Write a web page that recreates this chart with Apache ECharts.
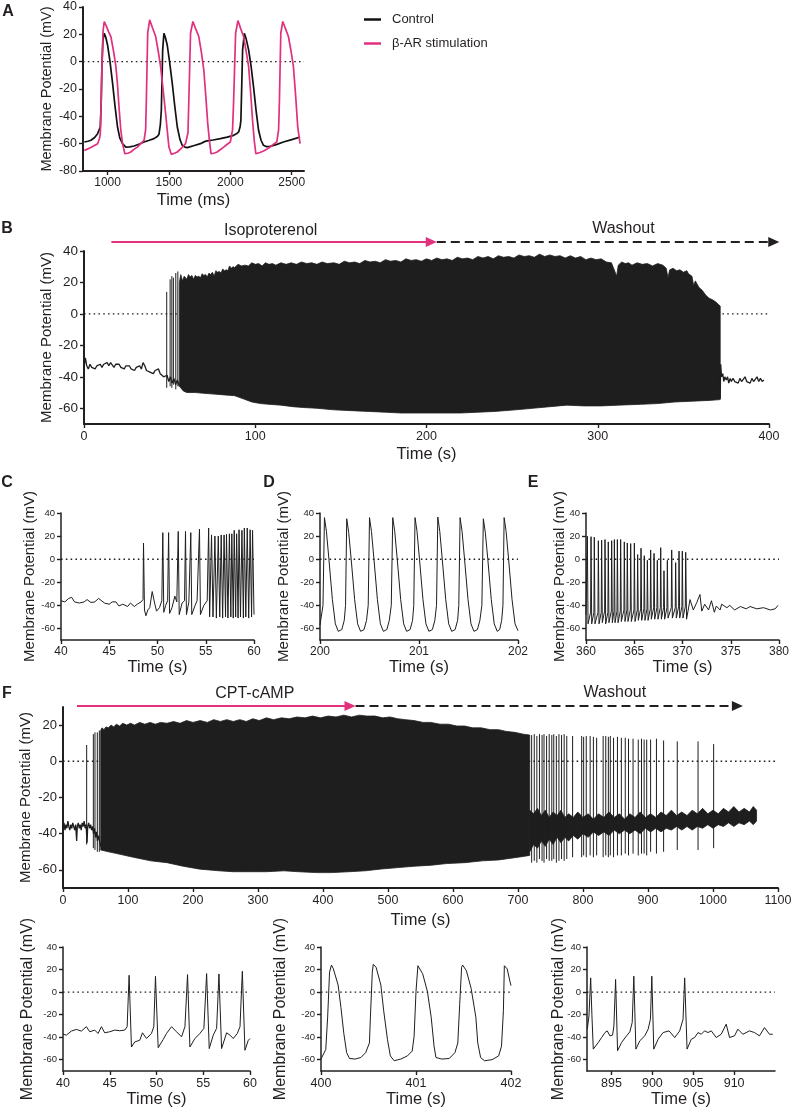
<!DOCTYPE html>
<html><head><meta charset="utf-8">
<script src="https://cdn.jsdelivr.net/npm/echarts@6/dist/echarts.min.js"></script>
<style>html,body{margin:0;padding:0;background:#fff}#c{width:793px;height:1114px}</style>
</head><body><div id="c"></div>
<script>
const FONT = '"Liberation Sans", Arial, Helvetica, sans-serif';
const INK = '#231f20';
const PINK = '#e0307e';

// ---------- Panel A (ms, mV) ----------
const aTicksX = [1000, 1500, 2000, 2500];
const aControl = [[811,-58.8],[840,-58.2],[865,-57.5],[895,-55.5],[919,-52.7],[941,-47.8],[948,-30],[954,-3.7],[962,15],[973,20.8],[985,18],[1000,12.2],[1020,0],[1041,-15.9],[1060,-32],[1081,-47.8],[1100,-56],[1122,-60],[1149,-62.5],[1180,-62.3],[1216,-61.7],[1260,-60.2],[1297,-58.8],[1340,-57.5],[1378,-56.3],[1405,-54.8],[1419,-53.1],[1430,-46],[1438,-35.5],[1449,8.6],[1459,20.8],[1470,18],[1486,12.2],[1505,0],[1527,-15.9],[1548,-33],[1568,-47.8],[1590,-57],[1608,-61.2],[1630,-62.5],[1649,-62.9],[1700,-61.5],[1757,-60],[1790,-58.5],[1811,-58],[1860,-57.3],[1919,-56.3],[1975,-55.2],[2027,-53.9],[2050,-52.8],[2068,-51.4],[2080,-47.5],[2086,-42.9],[2100,8.6],[2114,20.8],[2128,17],[2149,8.6],[2170,-4],[2189,-18.4],[2210,-36],[2230,-50.2],[2250,-57.5],[2270,-61.2],[2295,-62.2],[2324,-62],[2380,-60.5],[2432,-58.8],[2500,-57],[2568,-55.1]];
const aBeta = [[811,-64.9],[860,-63],[919,-60],[935,-56],[941,-52.7],[948,-30],[954,-3.7],[963,22],[973,29.4],[990,26],[1008,22],[1027,18.4],[1048,8],[1068,-3.7],[1082,-18],[1095,-35.5],[1108,-50],[1122,-60],[1141,-67.4],[1165,-67],[1189,-66.1],[1215,-64.2],[1243,-62.5],[1270,-60],[1297,-57.6],[1310,-50],[1316,-28.2],[1327,20.8],[1343,30.6],[1365,25],[1392,18.4],[1412,8],[1432,-3.7],[1452,-20],[1473,-38],[1488,-52],[1500,-62.5],[1519,-67.8],[1545,-67],[1568,-66.1],[1600,-63.5],[1635,-60],[1655,-52],[1662,-28.2],[1676,20.8],[1695,29.4],[1718,24],[1743,18.4],[1764,7],[1784,-6.1],[1800,-25],[1816,-45.3],[1830,-58],[1843,-67.4],[1865,-67],[1892,-66.1],[1920,-64.3],[1946,-62.5],[1972,-60.6],[2000,-58.8],[2018,-50],[2027,-28.2],[2043,20.8],[2062,30.1],[2085,24],[2108,18.4],[2128,8],[2149,-3.7],[2165,-22],[2181,-42.9],[2195,-58],[2208,-67.4],[2240,-66.5],[2270,-65.4],[2298,-64],[2324,-62.5],[2350,-60.5],[2378,-58.8],[2393,-50],[2400,-28.2],[2411,20.8],[2427,29.4],[2450,24],[2473,18.4],[2494,8],[2514,-3.7],[2532,-25],[2549,-47.8],[2568,-60]];

// ---------- Panel B (s, mV) ----------
const yTicks = [-60,-40,-20,0,20,40];
const bPre = [[0,-34],[0.8,-28],[1.6,-33],[2.5,-35],[3.5,-32],[4.5,-34],[5.5,-33],[6.5,-35],[7.5,-33],[8.5,-34],[9.5,-32],[10.5,-34],[11.5,-32],[12.5,-33],[13.5,-31],[14.5,-33],[15.5,-31],[16.5,-32],[17.5,-34],[18.5,-32],[19.5,-33],[20.5,-32],[21.5,-34],[22.5,-33],[23.5,-35],[24.5,-33],[25.5,-34],[26.5,-33],[27.5,-35],[28.5,-34],[29.5,-36],[30.5,-34],[31.5,-35],[32.5,-33],[33.5,-35],[34.5,-31],[35.5,-33],[36.5,-36],[37.5,-35],[38.5,-37],[39.5,-36],[40.5,-38],[41.5,-36],[42.5,-37],[43.5,-35],[44.5,-38],[45.5,-37],[46.5,-40],[47.5,-41],[48.5,-39],[49.5,-43],[50.5,-40],[51.5,-44],[52.5,-41],[53.5,-45],[54.5,-42],[55.7,-46]];
const bEarlySpikes = [[48.3,-47,14],[50.3,-46,22],[51.3,-47,24],[52.2,-45,23],[53.6,-48,26],[54.8,-46,27]];
const bTop = [[55.7,20],[56.5,25],[57.5,21],[58.5,24],[60,22],[61,25],[62,23.5],[63,24.5],[64,22],[65,24.5],[66,23.5],[67,24],[68,23],[69,25.5],[70,24.5],[71,25],[72,23.5],[73,26],[74,25],[75,26.5],[76,24],[77,27.5],[78,26.5],[79,27],[80,26],[81,28.5],[82,27.5],[83,28],[84,27.5],[85,30.5],[86,29],[87,30],[88,29.5],[90,31.5],[92,30.5],[94,31],[96,30.5],[98,32.5],[100,31.5],[102,32],[104,30.5],[106,32.5],[108,31.5],[110,32],[112,31],[115,32.5],[118,31.5],[121,32.5],[124,31.5],[127,33],[130,32],[133,32.5],[136,31.5],[139,33],[142,32],[146,32.5],[149,31.5],[152,33.5],[155,32.5],[158,33],[161,32],[164,34],[167,33],[170,33.5],[173,32.5],[176,34.5],[179,33.5],[182,34],[185,33],[188,35],[191,34],[194,34.5],[197,33.5],[200,35],[203,34],[206,35.5],[209,34.5],[212,35],[215,34],[218,36],[221,35],[224,35.5],[227,34.5],[230,36.5],[233,35.5],[236,36.5],[239,35],[242,37],[245,36],[248,36.5],[251,35.5],[254,37.5],[257,36.5],[260,37],[263,36],[266,38],[269,36.5],[272,37.5],[275,36.5],[278,37],[281,35.5],[284,37],[287,35.5],[290,36.5],[293,34.5],[296,35.5],[299,34.5],[302,35],[305,33],[308,32.5],[310,27],[311,24],[312,31],[314,33],[316,32],[318,32.5],[320,31],[323,32.5],[326,31.5],[329,32],[332,30.5],[335,32],[338,31],[340,29],[341,23],[342,28],[344,29],[346,27.5],[348,28],[350,26.5],[352,27.5],[353,25.5],[355,24],[356,18],[357,21],[359,17],[361,15],[363,12],[365,10],[367,9],[369,7.5],[370.5,6],[371.5,5]];
const bBottom = [[55.7,-46],[58,-49],[60,-50],[65,-50],[70,-50.5],[76,-51],[82,-51.5],[88,-52],[93,-54],[98,-56],[103,-57],[108,-57.5],[115,-58],[122,-59],[128,-59.5],[136,-60],[146,-61],[156,-61.5],[166,-62],[176,-62.5],[185,-63],[195,-63],[208,-63],[220,-63],[230,-62.5],[240,-62],[252,-61],[262,-60],[272,-59],[282,-58],[292,-58.5],[302,-58.5],[312,-58],[325,-57.5],[335,-57],[345,-56],[355,-55.5],[365,-55],[371.5,-54.5]];
const bPost = [[371.5,-54],[371.8,-32],[372.3,-40],[373,-38],[373.6,-43],[374.2,-40],[375,-42],[375.8,-40],[376.5,-44],[377.3,-41],[378,-43],[379,-41],[380,-43],[381,-42],[382,-44],[383,-41],[384,-43],[385,-42],[386,-40],[387,-43],[388,-42],[389,-44],[390,-41],[391,-43],[392,-42],[393,-40],[394,-43],[395,-41],[396,-43],[397,-42]];
const bIso = [16, 206];      // arrow start/end (s)
const bWash = [206, 406];
const bLabels = [['Isoproterenol', 109], ['Washout', 315]];

// ---------- Panel C ----------
const cTrace = [[40.0,-36],[40.4,-37],[40.8,-34],[41.1,-33],[41.4,-37],[41.9,-38],[42.4,-37],[42.7,-35],[43.1,-37.5],[43.5,-37],[43.9,-34],[44.1,-32.5],[44.5,-38],[45.0,-39],[45.3,-37],[45.7,-37],[46.0,-40.5],[46.4,-39],[46.9,-41],[47.2,-38],[47.6,-41],[47.9,-39],[48.3,-37],[48.5,-35],[48.55,14],[48.65,-44],[48.8,-49],[49.0,-44],[49.2,-42],[49.45,-28],[49.7,-38],[49.9,-45],[50.2,-42],[50.45,-36],[50.55,23],[50.65,-46],[50.85,-40],[51.05,-36],[51.15,23],[51.25,-47],[51.5,-42],[51.8,-32],[52.0,-37],[52.15,24],[52.25,-48],[52.55,-38],[52.8,-36],[52.9,24],[53.0,-48],[53.25,-37],[53.45,23],[53.55,-48],[53.9,-40],[54.1,-36],[54.35,26],[54.45,-48],[54.8,-40],[55.15,-36],[55.3,27],[55.4,-50],[55.6,21],[55.75,-50],[55.95,20],[56.1,-51],[56.3,20],[56.45,-50],[56.6,21],[56.75,-51],[56.9,21],[57.05,-50],[57.15,21.5],[57.3,-51],[57.45,22],[57.6,-50],[57.7,22],[57.85,-51],[57.95,25],[58.1,-50],[58.2,22],[58.35,-51],[58.45,25.5],[58.6,-50],[58.75,25],[58.9,-51],[59.0,27],[59.15,-50],[59.3,27],[59.45,-51],[59.6,25.5],[59.75,-50],[59.85,25],[60.0,-48]];

// ---------- Panel D ----------
const dTrace = [[200.0,-57],[200.03,-40],[200.045,36],[200.065,24],[200.09,0],[200.125,-35],[200.155,-56],[200.185,-62.5],[200.22,-61],[200.245,-53],[200.258,-40],
[200.27,35],[200.29,23],[200.315,0],[200.35,-35],[200.38,-56],[200.41,-62.5],[200.445,-61],[200.47,-53],[200.487,-40],
[200.50,36],[200.52,24],[200.545,0],[200.58,-35],[200.61,-56],[200.64,-62.5],[200.675,-61],[200.70,-53],[200.72,-40],
[200.735,36],[200.755,24],[200.78,0],[200.815,-35],[200.845,-56],[200.875,-62.5],[200.91,-61],[200.935,-53],[200.947,-40],
[200.96,36],[200.98,24],[201.005,0],[201.04,-35],[201.07,-56],[201.1,-62.5],[201.135,-61],[201.16,-53],[201.177,-40],
[201.19,36.5],[201.21,24],[201.235,0],[201.27,-35],[201.30,-56],[201.33,-62.5],[201.365,-61],[201.39,-53],[201.402,-40],
[201.415,36],[201.435,24],[201.46,0],[201.495,-35],[201.525,-56],[201.555,-62.5],[201.59,-61],[201.615,-53],[201.635,-40],
[201.65,35],[201.67,23],[201.695,0],[201.73,-35],[201.76,-56],[201.79,-62.5],[201.815,-61],[201.835,-53],[201.848,-40],
[201.86,36],[201.88,24],[201.905,0],[201.94,-35],[201.97,-56],[202.0,-62]];

// ---------- Panel E ----------
const eTrace = [[360.0,-48],[360.14,20],[360.21,-56],[360.48,-46],[360.52,19.5],[360.59,-56],[360.82,-46],[360.86,19],[360.93,-56],[361.24,-46],[361.28,16],[361.35,-56],[361.58,-46],[361.62,16.5],[361.69,-55],[361.93,-45],[361.97,17],[362.04,-56],[362.27,-46],[362.31,15],[362.38,-55],[362.62,-45],[362.66,16],[362.73,-55],[362.9,-45],[362.94,17],[363.01,-55],[363.21,-45],[363.25,17],[363.32,-55],[363.55,-45],[363.59,17],[363.66,-54],[363.93,-44],[363.97,15],[364.04,-54],[364.24,-44],[364.28,14],[364.35,-54],[364.59,-44],[364.63,13.5],[364.7,-54],[364.97,-44],[365.01,14],[365.08,-54],[365.31,-44],[365.35,4],[365.42,-53],[365.66,-43],[365.7,9.5],[365.77,-53],[366.0,-43],[366.04,3],[366.11,-53],[366.32,-43],[366.36,-1],[366.43,-53],[366.66,-43],[366.7,8],[366.77,-52],[367.01,-42],[367.05,5],[367.12,-52],[367.35,-42],[367.39,-1],[367.46,-52],[367.7,-42],[367.74,10],[367.81,-52],[368.04,-42],[368.08,-10],[368.15,-52],[368.39,-42],[368.43,-1],[368.5,-51],[368.84,-42],[368.88,8],[368.95,-51],[369.25,-42],[369.29,-3],[369.36,-51],[369.6,-41],[369.64,7],[369.71,-51],[369.94,-41],[369.98,7],[370.05,-51],[370.29,-41],[370.33,6],[370.42,-52],[370.78,-35],[371.12,-44],[371.47,-37.7],[371.81,-30.6],[372.0,-45],[372.3,-39],[372.7,-44],[373.0,-36],[373.3,-46],[373.5,-40.6],[373.9,-44],[374.06,-39],[374.6,-42],[374.9,-40],[375.4,-44],[376.0,-41],[376.6,-43],[377.0,-41],[377.7,-43],[378.4,-42],[379.1,-44],[379.6,-43],[379.9,-40]];

// ---------- Panel F ----------
const fTicksY = [-60,-40,-20,0,20];
const fPre = [[0,-36],[1.5,-34],[3,-38],[4.5,-35],[6,-37],[7.5,-33],[9,-36],[10.5,-38],[12,-35],[13.5,-37],[15,-34],[16.5,-36],[18,-38],[19.5,-35],[21,-44],[22,-36],[23.5,-34],[25,-37],[26.5,-35],[28,-38],[29.5,-34],[31,-36],[32.5,-33],[34,-37],[35.5,-35],[37,-45],[38,-36],[39.5,-34],[41,-37],[42.5,-35],[44,-38],[45.5,-36],[47,-40],[48.5,-37],[50,-42],[51.5,-39],[53,-44],[54.5,-41],[58,-47]];
const fEarlySpikes = [[36.4,-46,9],[46.7,-48,15],[49.2,-49,16],[52.8,-50,16],[55.9,-50,17]];
const fTop = [[58,17],[60,18.5],[63,17.5],[66,19],[70,18.5],[74,20],[78,19],[82,20.5],[87,19.5],[92,21],[98,20],[104,21],[110,20],[118,21.5],[126,20.5],[134,21.5],[142,20.5],[150,21.5],[160,21],[170,22],[180,21],[190,22.5],[200,21.5],[211,22.5],[222,21.5],[232,23],[242,22],[252,23],[262,22],[272,23],[282,22],[292,23.5],[302,22.5],[313,24],[324,23],[336,24],[348,23.5],[360,24.5],[372,24],[384,25],[396,24],[408,25],[420,24.5],[432,25.5],[444,24.5],[456,25.5],[467,25],[480,25],[492,24],[503,24.5],[515,23.5],[527,23],[540,22.5],[554,21.5],[566,21.5],[580,20.5],[593,20.5],[606,19.5],[618,19.5],[630,18.5],[643,18.5],[657,17.5],[670,17.5],[682,16.5],[695,16],[708,15],[718,14.5]];
const fBottom = [[58,-49],[70,-50],[83,-51],[108,-53],[135,-55],[160,-56],[185,-58],[211,-59.6],[240,-60.5],[262,-61],[290,-61],[313,-61],[340,-60.5],[362,-61],[390,-61.5],[413,-61.5],[440,-61],[465,-60.5],[490,-59.5],[516,-58.7],[540,-58],[567,-57.4],[590,-56.5],[618,-56],[645,-55],[670,-54.5],[700,-53],[718,-52]];
const fPostTop = [[718,-27],[724,-29],[730,-26],[736,-30],[742,-27],[748,-31],[754,-28],[760,-30],[766,-27],[772,-31],[778,-29],[785,-31],[792,-28],[800,-31],[808,-29],[816,-32],[824,-29],[832,-31],[840,-28],[848,-31],[856,-29],[864,-32],[872,-29],[880,-31],[888,-28],[896,-31],[904,-29],[912,-31],[920,-28],[928,-30],[936,-27],[944,-30],[952,-28],[960,-30],[968,-27],[976,-29],[984,-26],[992,-29],[1000,-27],[1008,-29],[1016,-26],[1024,-28],[1032,-25],[1040,-28],[1048,-26],[1056,-28],[1062,-25],[1067,-27]];
const fPostBottom = [[718,-50],[724,-46],[730,-48],[736,-44],[742,-47],[748,-43],[754,-46],[760,-42],[766,-45],[772,-42],[778,-44],[785,-41],[792,-43],[800,-40],[808,-42],[816,-39],[824,-41],[832,-39],[840,-41],[848,-38],[856,-40],[864,-38],[872,-40],[880,-38],[888,-40],[896,-37],[904,-39],[912,-37],[920,-39],[928,-37],[936,-38],[944,-36],[952,-38],[960,-36],[968,-38],[976,-36],[984,-37],[992,-35],[1000,-37],[1008,-35],[1016,-36],[1024,-34],[1032,-36],[1040,-34],[1048,-35],[1056,-33],[1062,-35],[1067,-33]];
const fLateSpikes = [[721,-56,14.5],[725,-55,15],[729,-56,14],[733,-54,15],[737,-55,14.5],[740,-56,15],[744,-54,14],[748,-55,15],[752,-55,14.5],[755,-54,15],[759,-56,14],[763,-55,15],[767,-54,14.5],[771,-55,15],[775,-54,14],[784,-53,14],[798,-53,14],[801,-52,13.5],[805,-53,14],[811,-52,14],[816,-53,13.5],[821,-52,13],[831,-53,14],[835,-52,14],[839,-53,13.5],[842,-52,14],[847,-53,13],[853,-52,13.5],[859,-52,13],[865,-51,13],[870,-52,12.5],[877,-51,12.5],[885,-52,12],[890,-51,12.5],[894,-51,12],[898,-52,12],[904,-50,12],[913,-51,12.5],[924,-50,11.5],[945,-49,11],[977,-49,11],[1001,-48,9.5]];
const fCpt = [21.5, 450];
const fWash = [450, 1046];
const fLabels = [['CPT-cAMP', 295], ['Washout', 849]];

// ---------- Panels G1-G3 (insets of F) ----------
const g1Trace = [[40.0,-37.3],[40.36,-38.2],[40.89,-34.6],[41.43,-33.1],[41.96,-34.6],[42.5,-30.7],[42.86,-35.2],[43.39,-33.7],[43.75,-36.7],[44.11,-30.7],[44.46,-36.1],[45.0,-35.2],[45.54,-33.7],[46.07,-34.3],[46.61,-33.7],[46.86,-30.7],[47.07,14.9],[47.32,-48.7],[47.68,-44.2],[48.21,-42.7],[48.5,-36.1],[48.93,-41.2],[49.46,-36.7],[49.71,-30.7],[49.89,14],[50.18,-49.3],[50.71,-42.1],[51.07,-36.7],[51.61,-30.7],[52.14,-35.2],[52.68,-39.7],[53.04,-30.7],[53.32,15.5],[53.57,-48.7],[54.11,-41.2],[54.64,-36.7],[55.07,-32.2],[55.36,16.4],[55.64,-50.1],[56.07,-38.2],[56.43,-32.2],[56.68,16.1],[56.96,-50.1],[57.5,-36.1],[57.86,-38.2],[58.21,-41.2],[58.64,-36.7],[58.93,-30.7],[59.18,18.5],[59.46,-51.6],[59.82,-42.7],[60.0,-41.2]];
const g2Trace = [[400.0,-59.4],[400.01,-58],[400.05,-50.9],[400.07,-22.3],[400.09,17.7],[400.11,24],[400.13,20.6],[400.18,6.3],[400.21,-13.7],[400.24,-36.6],[400.27,-53.7],[400.3,-58.9],[400.36,-59.4],[400.42,-58],[400.47,-53.7],[400.51,-45.1],[400.52,-22.3],[400.54,17.7],[400.55,24.6],[400.58,22],[400.63,6.3],[400.66,-16.6],[400.7,-42.3],[400.73,-56.6],[400.77,-60.9],[400.84,-59.4],[400.91,-56.6],[400.96,-52.3],[400.98,-39.4],[401.0,0.6],[401.02,23.4],[401.04,24],[401.07,16.3],[401.12,0.6],[401.16,-22.3],[401.19,-48],[401.21,-58],[401.27,-59.4],[401.35,-58.9],[401.41,-53.7],[401.44,-45.1],[401.46,-10.9],[401.48,22],[401.49,24],[401.53,19.1],[401.58,3.4],[401.63,-22.3],[401.65,-45.1],[401.68,-58],[401.72,-60.9],[401.8,-60],[401.87,-56.6],[401.9,-48],[401.92,-16.6],[401.93,23.4],[401.94,24.9],[401.96,20.6],[401.99,9.1],[402.0,5.7]];
const g3Ticks = [895, 900, 905, 910];
const g3Trace = [[892.04,-32.9],[892.24,-21.2],[892.45,12.6],[892.6,-20],[892.77,-50.6],[892.98,-49.1],[893.38,-44.7],[893.79,-40.3],[894.2,-35.9],[894.48,-34.4],[894.8,-38.8],[895.13,-38.2],[895.29,-30],[895.5,11.2],[895.74,-52],[896.23,-44.7],[896.84,-38.8],[897.24,-35.3],[897.53,-27],[897.73,14.1],[897.98,-50.6],[898.46,-43.2],[899.07,-38.8],[899.48,-32.9],[899.76,-24.1],[899.93,14.1],[900.17,-50.6],[900.7,-41.8],[901.31,-35.9],[902.04,-34.4],[902.73,-40.3],[903.34,-34.4],[903.75,-24.1],[903.95,12.6],[904.24,-50.6],[904.76,-41.8],[905.17,-40.3],[905.58,-35.9],[905.98,-37.4],[906.39,-34.4],[906.8,-35.9],[907.2,-34.4],[907.81,-40.3],[908.42,-37.4],[909.03,-28.5],[909.44,-40.3],[910.05,-38.8],[910.46,-32.9],[911.07,-37.4],[911.88,-34.4],[912.49,-35.9],[913.1,-38.8],[913.71,-31.5],[914.32,-37.4],[914.72,-37.4]];

// ================= layout & styling =================
const grids = [
  {left: 83, top: 7, width: 221, height: 164},   // 0 A
  {left: 84, top: 251, width: 685, height: 173}, // 1 B
  {left: 61, top: 513, width: 193, height: 127}, // 2 C
  {left: 320, top: 513, width: 198, height: 127},// 3 D
  {left: 586, top: 513, width: 193, height: 127},// 4 E
  {left: 63, top: 707, width: 715, height: 181}, // 5 F
  {left: 63, top: 947, width: 187, height: 124}, // 6 G1
  {left: 321, top: 947, width: 190, height: 124},// 7 G2
  {left: 587, top: 947, width: 188, height: 124} // 8 G3
].map(g => Object.assign({outerBoundsMode: 'none', containLabel: false}, g));

const plain = v => String(v);
function mkX(gi, min, max, cfg) {
  const ax = {
    type: 'value', gridIndex: gi, min: min, max: max, position: 'bottom',
    axisLine: {show: true, onZero: false, lineStyle: {color: INK, width: cfg.lw || 1.5}},
    axisTick: {show: true, length: 4, lineStyle: {color: INK, width: 1.4}},
    axisLabel: {show: true, color: INK, fontFamily: FONT, fontSize: cfg.fs, margin: 6, showMinLabel: true, showMaxLabel: true, formatter: plain, hideOverlap: false},
    splitLine: {show: false},
    name: cfg.name || 'Time (s)', nameLocation: 'middle', nameGap: cfg.gap, nameMoveOverlap: false,
    nameTextStyle: {color: INK, fontFamily: FONT, fontSize: cfg.nfs || 16.5}
  };
  if (cfg.ticks) { ax.axisTick.customValues = cfg.ticks; ax.axisLabel.customValues = cfg.ticks; }
  else ax.interval = cfg.interval;
  return ax;
}
function mkY(gi, min, max, cfg) {
  const ax = {
    type: 'value', gridIndex: gi, min: min, max: max, position: 'left',
    axisLine: {show: true, onZero: false, lineStyle: {color: INK, width: cfg.lw || 1.5}},
    axisTick: {show: true, length: 4, lineStyle: {color: INK, width: 1.4}},
    axisLabel: {show: true, color: INK, fontFamily: FONT, fontSize: cfg.fs, margin: 6, showMinLabel: true, showMaxLabel: true, formatter: plain, hideOverlap: false},
    splitLine: {show: false},
    name: 'Membrane Potential (mV)', nameLocation: 'middle', nameGap: cfg.gap, nameMoveOverlap: false,
    nameTextStyle: {color: INK, fontFamily: FONT, fontSize: cfg.nfs || 15}
  };
  if (cfg.ticks) { ax.axisTick.customValues = cfg.ticks; ax.axisLabel.customValues = cfg.ticks; }
  else ax.interval = cfg.interval;
  return ax;
}

const xAxes = [
  mkX(0, 800, 2600, {fs: 12, gap: 21, name: 'Time (ms)', ticks: aTicksX, lw: 2}),
  mkX(1, 0, 400, {fs: 12.5, gap: 22, interval: 100, lw: 2}),
  mkX(2, 40, 60, {fs: 12, gap: 19, interval: 5}),
  mkX(3, 200, 202, {fs: 12, gap: 19, interval: 1}),
  mkX(4, 360, 380, {fs: 12, gap: 19, interval: 5}),
  mkX(5, 0, 1100, {fs: 12.5, gap: 24, interval: 100, lw: 2}),
  mkX(6, 40, 60, {fs: 12.5, gap: 20, interval: 5}),
  mkX(7, 400, 402, {fs: 12.5, gap: 20, interval: 1}),
  mkX(8, 892, 915, {fs: 12.5, gap: 20, ticks: g3Ticks})
];
const yAxes = [
  mkY(0, -80, 40, {fs: 12.5, gap: 29, nfs: 14.5, interval: 20, lw: 2}),
  mkY(1, -70, 40, {fs: 13.5, gap: 30, ticks: yTicks, lw: 2}),
  mkY(2, -70, 40, {fs: 9.5, gap: 24, ticks: yTicks}),
  mkY(3, -70, 40, {fs: 9.5, gap: 29, ticks: yTicks}),
  mkY(4, -70, 40, {fs: 9.5, gap: 19, ticks: yTicks}),
  mkY(5, -70, 30, {fs: 13, gap: 30, ticks: fTicksY, lw: 2}),
  mkY(6, -70, 40, {fs: 9.5, gap: 27, nfs: 16, ticks: yTicks}),
  mkY(7, -70, 40, {fs: 9.5, gap: 32, nfs: 16, ticks: yTicks}),
  mkY(8, -70, 40, {fs: 9.5, gap: 20, nfs: 16, ticks: yTicks})
];

function zeroLine(gi) {
  const ax = xAxes[gi];
  return {type: 'line', xAxisIndex: gi, yAxisIndex: gi, data: [[ax.min, 0], [ax.max, 0]],
    symbol: 'none', silent: true, z: 1,
    lineStyle: {color: INK, width: 1.4, type: [1.6, 3.2]}};
}
function trace(gi, data, color, width, name) {
  const s = {type: 'line', xAxisIndex: gi, yAxisIndex: gi, data: data, symbol: 'none', showSymbol: false,
    clip: true, silent: true, z: 3, lineStyle: {color: color, width: width}, itemStyle: {color: color}};
  if (name) s.name = name;
  return s;
}
function band(gi, top, bottom, color) {
  return {type: 'custom', xAxisIndex: gi, yAxisIndex: gi, data: [top[0]], clip: true, silent: true, z: 3,
    encode: {x: 0, y: 1},
    renderItem: function (params, api) {
      const pts = top.map(p => api.coord(p)).concat(bottom.slice().reverse().map(p => api.coord(p)));
      return {type: 'polygon', shape: {points: pts}, style: {fill: color, stroke: color, lineWidth: 0.8}};
    }};
}
function spikes(gi, data, color, width) {
  return {type: 'custom', xAxisIndex: gi, yAxisIndex: gi, data: data, clip: true, silent: true, z: 4,
    encode: {x: 0, y: [1, 2]},
    renderItem: function (params, api) {
      const a = api.coord([api.value(0), api.value(1)]);
      const b = api.coord([api.value(0), api.value(2)]);
      return {type: 'line', shape: {x1: a[0], y1: a[1], x2: b[0], y2: b[1]}, style: {stroke: color, lineWidth: width}};
    }};
}

const TR = '#1e1e1e';
const series = [];
for (let i = 0; i < 9; i++) series.push(zeroLine(i));
series.push(trace(0, aControl, '#111111', 1.7, 'Control'));
series.push(trace(0, aBeta, PINK, 1.7, 'β-AR stimulation'));
series.push(trace(1, bPre, TR, 1.3));
series.push(spikes(1, bEarlySpikes, TR, 1));
series.push(band(1, bTop, bBottom, TR));
series.push(trace(1, bPost, TR, 1.3));
series.push(trace(2, cTrace, TR, 1));
series.push(trace(3, dTrace, TR, 1));
series.push(trace(4, eTrace, TR, 1));
series.push(trace(5, fPre, TR, 1.3));
series.push(spikes(5, fEarlySpikes, TR, 1));
series.push(band(5, fTop, fBottom, TR));
series.push(band(5, fPostTop, fPostBottom, TR));
series.push(spikes(5, fLateSpikes, TR, 1));
series.push(trace(6, g1Trace, TR, 1));
series.push(trace(7, g2Trace, TR, 1));
series.push(trace(8, g3Trace, TR, 1));

const chart = echarts.init(document.getElementById('c'), null, {renderer: 'canvas', width: 793, height: 1114});
chart.setOption({
  animation: false,
  backgroundColor: '#ffffff',
  textStyle: {fontFamily: FONT},
  legend: {
    data: ['Control', 'β-AR stimulation'], orient: 'vertical', left: 359, top: 8, padding: 5,
    itemWidth: 17, itemHeight: 2.5, icon: 'rect', itemGap: 11, selectedMode: false,
    textStyle: {fontFamily: FONT, fontSize: 13, color: INK, padding: [0, 0, 0, 6]}
  },
  grid: grids, xAxis: xAxes, yAxis: yAxes, series: series
});

// ---- annotations: panel letters & treatment arrows ----
function px(gi, t) { return chart.convertToPixel({xAxisIndex: gi}, t); }
function arrow(gi, range, y, color, dashed) {
  const x1 = px(gi, range[0]), x2 = px(gi, range[1]);
  return [
    {type: 'line', shape: {x1: x1, y1: y, x2: x2 - 8, y2: y}, style: {stroke: color, lineWidth: 1.8, lineDash: dashed ? [9, 5] : null}},
    {type: 'polygon', shape: {points: [[x2 - 11, y - 5], [x2, y], [x2 - 11, y + 5]]}, style: {fill: color}}
  ];
}
function label(gi, item, y) {
  return {type: 'text', style: {text: item[0], x: px(gi, item[1]), y: y, fill: INK, font: '16px ' + FONT,
    textAlign: 'center', textVerticalAlign: 'middle', align: 'center', verticalAlign: 'middle'}};
}
function letter(t, x, y) {
  return {type: 'text', style: {text: t, x: x, y: y, fill: INK, font: 'bold 16px ' + FONT,
    textAlign: 'center', textVerticalAlign: 'middle', align: 'center', verticalAlign: 'middle'}};
}
const gfx = [].concat(
  arrow(1, bIso, 242, PINK, false), arrow(1, bWash, 242, INK, true),
  arrow(5, fCpt, 706, PINK, false), arrow(5, fWash, 706, INK, true),
  [label(1, bLabels[0], 231), label(1, bLabels[1], 229), label(5, fLabels[0], 694), label(5, fLabels[1], 693)],
  [letter('A', 8, 12), letter('B', 7, 229), letter('C', 7, 483), letter('D', 269, 483), letter('E', 533, 483), letter('F', 7, 694)]
);
chart.setOption({graphic: gfx.map(g => Object.assign({silent: true, z: 10}, g))});
</script></body></html>
